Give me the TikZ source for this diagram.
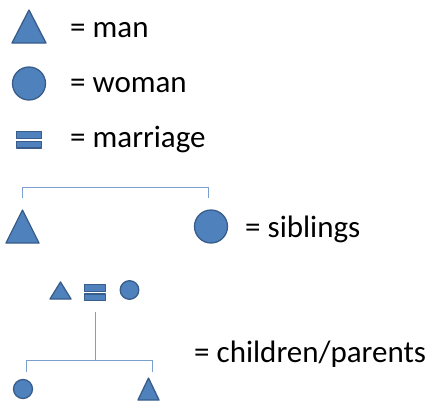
\documentclass[tikz,border=0pt]{standalone}
\usepackage{fontspec}
\setmainfont{Carlito}
\definecolor{symfill}{HTML}{4F81BD}
\definecolor{symline}{HTML}{385D8A}
\definecolor{linkc}{HTML}{7BA0CD}
\tikzset{
  sym/.style={fill=symfill, draw=symline, line width=1.3pt, line join=round},
  link/.style={draw=linkc, line width=0.9pt},
  lbl/.style={anchor=base west, inner sep=0pt, font=\fontsize{31}{36}\selectfont},
}
\begin{document}
\begin{tikzpicture}[x=1pt,y=-1pt]
\useasboundingbox (0,0) rectangle (432,402);
% legend
\draw[sym] (12,43) -- (46,43) -- (29,10) -- cycle;
\node[lbl] (tman) at (70,37) {= man};
\draw[sym] (29,83.5) circle (16.5);
\node[lbl] (twoman) at (70,92) {= woman};
\draw[sym] (16.5,131.5) rectangle (41.5,138.5);
\draw[sym] (16.5,141.5) rectangle (41.5,148);
\node[lbl] (tmarr) at (70,147) {= marriage};
% siblings
\coordinate (sibA) at (22.5,198);
\coordinate (sibB) at (208,198);
\draw[sym] (6,243) -- (39,243) -- (22.5,210) -- cycle;
\draw[sym] (211,226.5) circle (16.5);
\draw[link] (sibA) -- (22.5,187) -| (sibB);
\node[lbl] (tsib) at (245,237) {= siblings};
% children/parents
\draw[sym] (50,299) -- (71,299) -- (60.5,282) -- cycle;
\draw[sym] (84.5,284.5) rectangle (105.5,291.5);
\draw[sym] (84.5,294) rectangle (105.5,300.5);
\draw[sym] (129.5,290) circle (9.3);
\coordinate (par) at (95,312);
\coordinate (mid) at (95,360);
\coordinate (chA) at (26,372);
\coordinate (chB) at (152,372);
\draw[link] (par) -- (mid);
\draw[link] (chA) -- (26,360) -- (152,360) -- (chB);
\draw[sym] (23,389) circle (9.5);
\draw[sym] (138,400) -- (159,400) -- (148.5,378) -- cycle;
\node[lbl] (tcp) at (194,362) {= children/parents};
\end{tikzpicture}
\end{document}
